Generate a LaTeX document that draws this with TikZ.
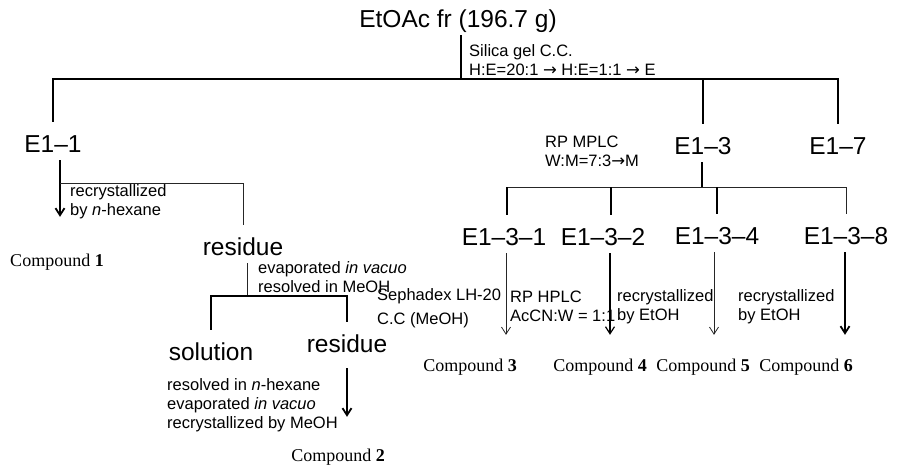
\documentclass[tikz,border=0pt]{standalone}
\usepackage{fontspec}
\setmainfont{Liberation Serif}
\newfontfamily\gulimfont{Liberation Sans}
\newfontfamily\arrowfont{DejaVu Sans}
\usetikzlibrary{arrows.meta}
\newcommand{\bigfont}{\gulimfont\fontsize{24.5}{29}\selectfont}
\newcommand{\smallfont}{\gulimfont\fontsize{16.5}{19}\selectfont}
\newcommand{\cmpfont}{\fontsize{18}{22}\selectfont}
\newcommand{\toarr}{{\arrowfont\char"2192}}
\begin{document}
\begin{tikzpicture}[x=1pt, y=-1pt, line join=miter,
  frac/.style={font=\bigfont, inner sep=0pt, anchor=base, text height=30pt, text depth=8pt},
  lbl/.style={font=\smallfont, inner sep=0pt, anchor=west, align=left},
  cmp/.style={font=\cmpfont, inner sep=0pt, anchor=base, text height=36pt},
  thk/.style={line width=1.8pt},
  mid/.style={line width=1.2pt},
  thn/.style={line width=0.8pt, black!85},
  arr/.style={-{Straight Barb[length=7pt, width=9pt]}}]
  \useasboundingbox (0,0) rectangle (907,467);

  % extract and silica gel column
  \node[frac] (top) at (458,27) {EtOAc fr (196.7 g)};
  \coordinate (fork) at (461,79);
  \draw[thk] (top.south -| fork) -- (fork);
  \node[lbl] (silica) at (469,60.5) {Silica gel C.C.\\H:E=20:1 \toarr{} H:E=1:1 \toarr{} E};

  \node[frac] (e11) at (53,152) {E1–1};
  \node[frac] (e13) at (703,154) {E1–3};
  \node[frac] (e17) at (838,154) {E1–7};
  \draw[thk] (e11.north) -- (e11.north |- fork) -- (e17.north |- fork) -- (e17.north);
  \draw[thk] (e13.north |- fork) -- (e13.north);

  % E1-1
  \node[cmp] (c1) at (57,266) {Compound \textbf{1}};
  \node[frac] (res1) at (243,255) {residue};
  \coordinate (b1) at (60,183);
  \draw[thk, arr, shorten >=13pt] (e11.south -| b1) -- (b1 |- c1.north);
  \draw[thn] (b1) -| (res1.north);
  \node[lbl] (hexlbl) at (70,202) {recrystallized\\by \textit{n}-hexane};

  \coordinate (b2) at (247,296);
  \node[frac] (sol) at (211,360) {solution};
  \node[frac] (res2) at (347,352) {residue};
  \draw[thn] (b2 |- res1.south) -- (b2);
  \draw[thk] (sol.north) |- (b2) -| (res2.north);
  \node[lbl] (evaplbl) at (258,277) {evaporated \textit{in vacuo}\\resolved in MeOH};
  \node[lbl] (sollbl) at (167,405) {resolved in \textit{n}-hexane\\evaporated \textit{in vacuo}\\recrystallized by MeOH};
  \node[cmp] (c2) at (338,461) {Compound \textbf{2}};
  \draw[thk, arr, shorten <=8pt, shorten >=8pt] (res2.south) -- (res2.south |- c2.north);

  % E1-3
  \coordinate (b3) at (702,187);
  \node[lbl] (mplc) at (545,151) {RP MPLC\\W:M=7:3\toarr M};
  \draw[thk] (b3 |- e13.south) -- (b3);
  \node[frac] (e131) at (504,245) {E1–3–1};
  \node[frac] (e132) at (603,245) {E1–3–2};
  \node[frac] (e134) at (717,244) {E1–3–4};
  \node[frac] (e138) at (846,244) {E1–3–8};
  \draw[thn] ([xshift=3pt]e131.north |- b3) -- (e138.north |- b3);
  \draw[thk] ([xshift=3pt]e131.north |- b3) -- ([xshift=3pt]e131.north);
  \draw[thk] ([xshift=8pt]e132.north |- b3) -- ([xshift=8pt]e132.north);
  \draw[thk] (e134.north |- b3) -- (e134.north);
  \draw[thn] (e138.north |- b3) -- (e138.north);

  \node[cmp] (c3) at (470,371) {Compound \textbf{3}};
  \node[cmp] (c4) at (600,371) {Compound \textbf{4}};
  \node[cmp] (c5) at (703,371) {Compound \textbf{5}};
  \node[cmp] (c6) at (806,371) {Compound \textbf{6}};
  \draw[thn, arr] ([xshift=2pt]e131.south) -- ([xshift=2pt]e131.south |- c3.north);
  \draw[mid, arr] ([xshift=7pt]e132.south) -- ([xshift=7pt]e132.south |- c4.north);
  \draw[thn, arr] ([xshift=-3pt]e134.south) -- ([xshift=-3pt]e134.south |- c5.north);
  \draw[thk, arr] ([xshift=-1pt]e138.south) -- ([xshift=-1pt]e138.south |- c6.north);

  \node[lbl] (sephlbl) at (377,308) {Sephadex LH-20\\[5pt]C.C (MeOH)};
  \node[lbl] (hplclbl) at (510,306.5) {RP HPLC\\AcCN:W = 1:1};
  \node[lbl] (etohlbl) at (617,306.5) {recrystallized\\by EtOH};
  \node[lbl] (etohlblb) at (738,306.5) {recrystallized\\by EtOH};
\end{tikzpicture}
\end{document}
